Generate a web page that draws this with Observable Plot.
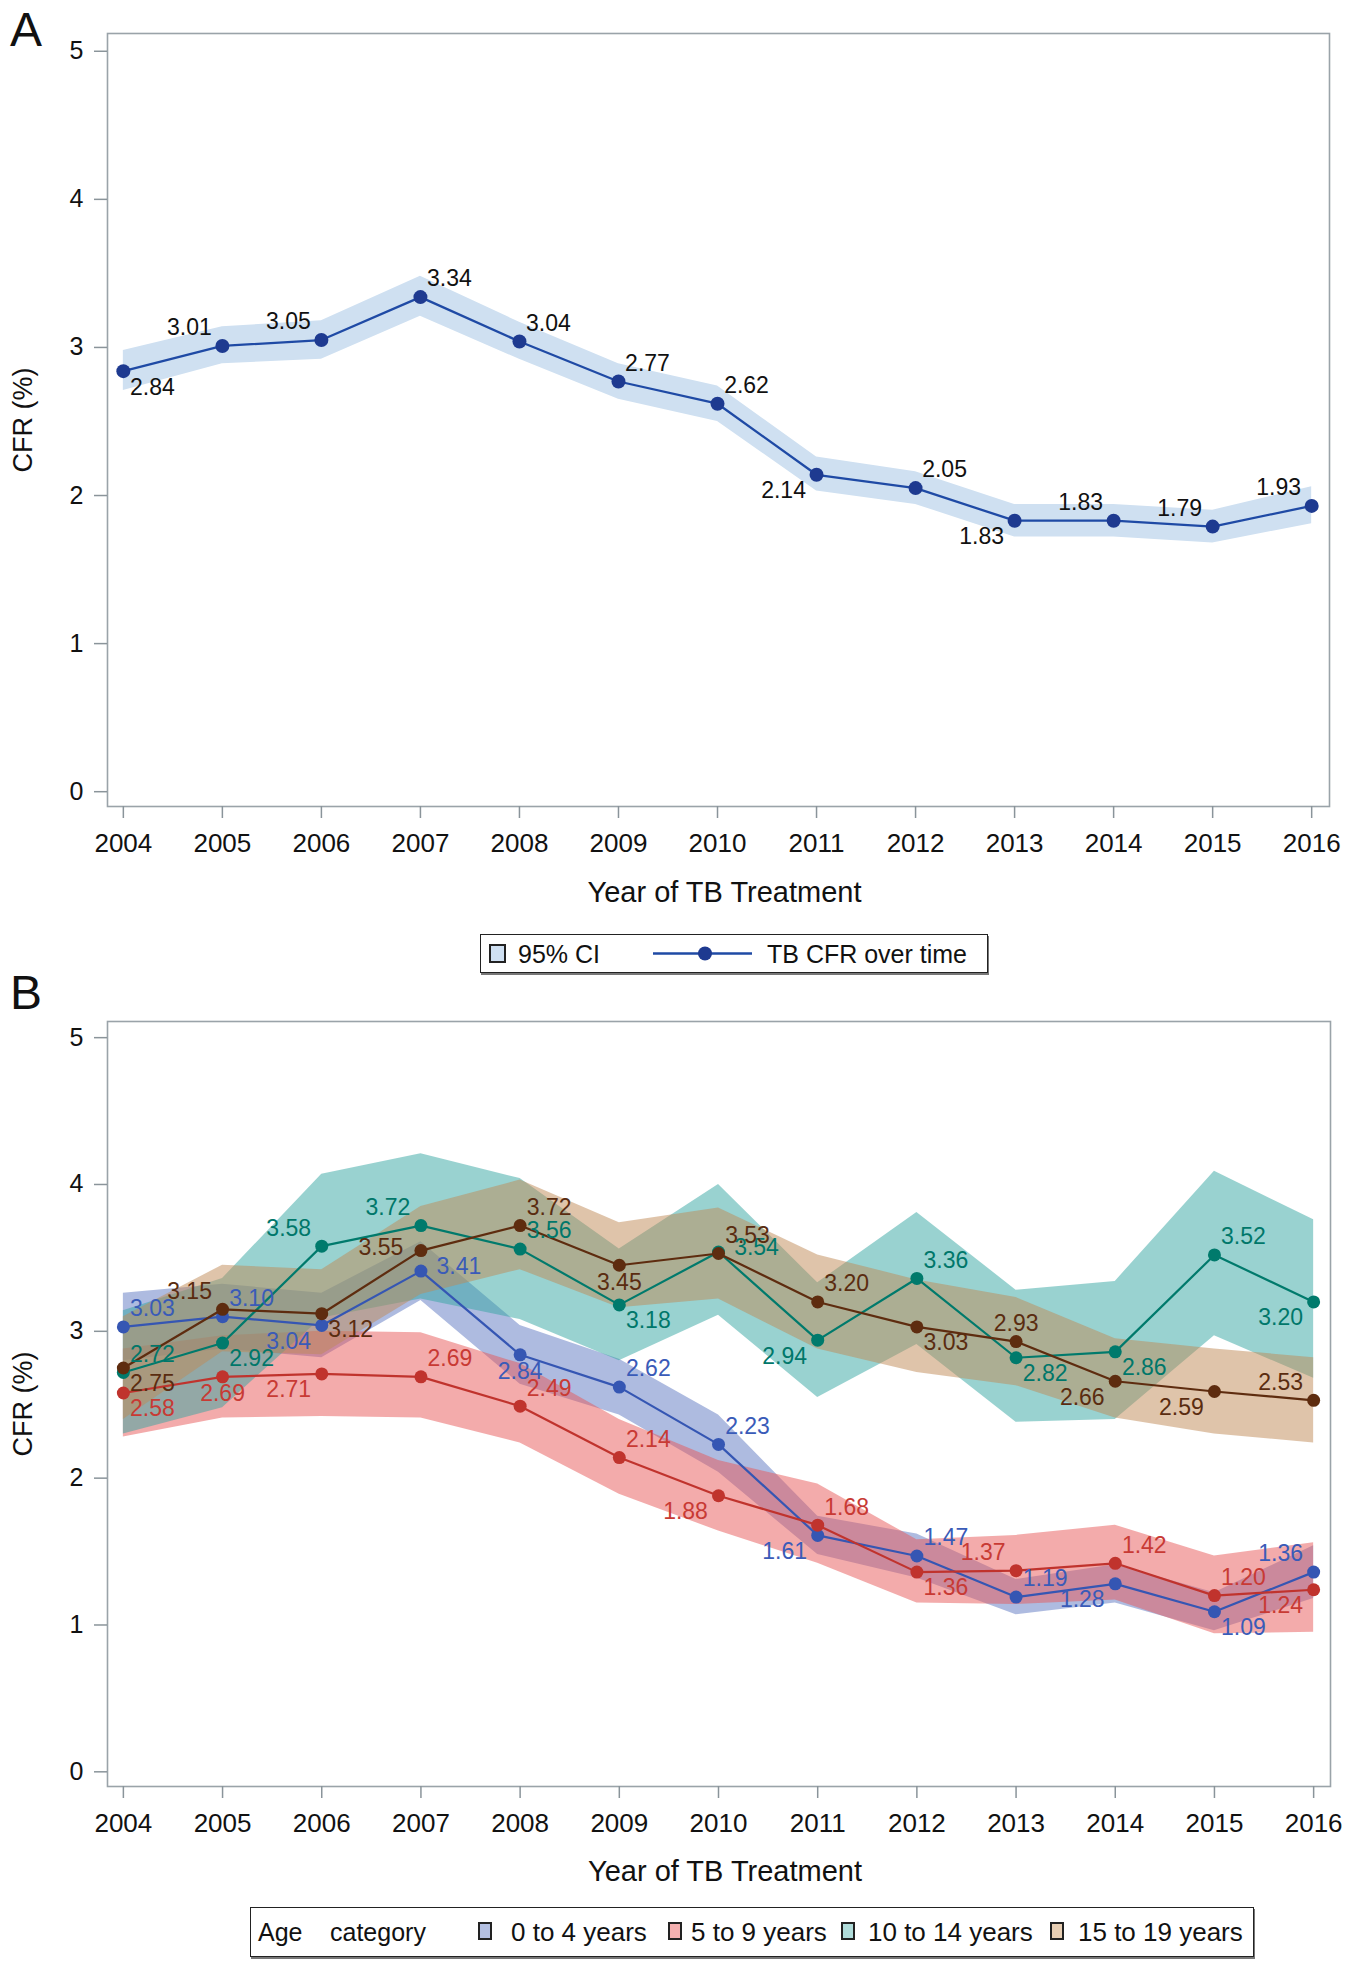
<!DOCTYPE html>
<html><head><meta charset="utf-8">
<script src="https://cdn.jsdelivr.net/npm/d3@7"></script>
<script src="https://cdn.jsdelivr.net/npm/@observablehq/plot@0.6"></script>
<style>
body{margin:0;background:#fff;font-family:"Liberation Sans",Arial,sans-serif;color:#111;}
#root{position:relative;width:1349px;height:1965px;overflow:hidden;background:#fff;}
.letter{position:absolute;font-size:48px;line-height:1;color:#111;}
.legend{position:absolute;border:1.5px solid #222;box-shadow:1px 2px 0 #777;background:#fff;}
.legend span.t{position:absolute;font-size:25px;white-space:nowrap;line-height:1;top:50%;transform:translateY(-50%);}
.legend .sw{position:absolute;border:2px solid #222;box-sizing:border-box;}
</style></head><body><div id="root"></div>
<script>
// ---------- data ----------
const years = [2004, 2005, 2006, 2007, 2008, 2009, 2010, 2011, 2012, 2013, 2014, 2015, 2016];

// Panel A: overall TB CFR (%) and 95% CI
const cfrAll   = [2.84, 3.01, 3.05, 3.34, 3.04, 2.77, 2.62, 2.14, 2.05, 1.83, 1.83, 1.79, 1.93];
const cfrAllLo = [2.71, 2.89, 2.92, 3.21, 2.92, 2.65, 2.50, 2.03, 1.94, 1.72, 1.72, 1.68, 1.81];
const cfrAllHi = [2.98, 3.14, 3.18, 3.48, 3.17, 2.89, 2.74, 2.26, 2.16, 1.94, 1.94, 1.90, 2.06];
const labelPosAll = ["se","nw","nw","ne","ne","ne","ne","sw","ne","sw","nw","nw","nw"];

// Panel B: by age category
const ageCategories = ["0 to 4 years", "5 to 9 years", "10 to 14 years", "15 to 19 years"];

const cfr0to4   = [3.03, 3.10, 3.04, 3.41, 2.84, 2.62, 2.23, 1.61, 1.47, 1.19, 1.28, 1.09, 1.36];
const lo0to4    = [2.80, 2.88, 2.82, 3.21, 2.64, 2.43, 2.04, 1.48, 1.32, 1.07, 1.15, 0.96, 1.18];
const hi0to4    = [3.26, 3.32, 3.26, 3.61, 3.04, 2.81, 2.43, 1.74, 1.62, 1.31, 1.41, 1.22, 1.54];
const labelPos0to4 = ["ne","ne","sw","e","s","ne","ne","sw","ne","ne","sw","se","nw"];

const cfr5to9   = [2.58, 2.69, 2.71, 2.69, 2.49, 2.14, 1.88, 1.68, 1.36, 1.37, 1.42, 1.20, 1.24];
const lo5to9    = [2.28, 2.41, 2.42, 2.41, 2.24, 1.89, 1.64, 1.42, 1.15, 1.14, 1.17, 0.94, 0.95];
const hi5to9    = [2.88, 2.97, 3.00, 2.99, 2.78, 2.40, 2.12, 1.96, 1.58, 1.61, 1.68, 1.47, 1.56];
const labelPos5to9 = ["se","s","sw","ne","ne","ne","sw","ne","se","nw","ne","ne","sw"];

const cfr10to14 = [2.72, 2.92, 3.58, 3.72, 3.56, 3.18, 3.54, 2.94, 3.36, 2.82, 2.86, 3.52, 3.20];
const lo10to14  = [2.30, 2.48, 3.09, 3.22, 3.08, 2.80, 3.11, 2.55, 2.91, 2.38, 2.40, 2.97, 2.68];
const hi10to14  = [3.14, 3.36, 4.07, 4.21, 4.04, 3.56, 4.00, 3.33, 3.81, 3.28, 3.34, 4.09, 3.76];
const labelPos10to14 = ["ne","se","nw","nw","ne","se","e","sw","ne","se","se","ne","sw"];

const cfr15to19 = [2.75, 3.15, 3.12, 3.55, 3.72, 3.45, 3.53, 3.20, 3.03, 2.93, 2.66, 2.59, 2.53];
const lo15to19  = [2.40, 2.86, 2.84, 3.25, 3.42, 3.16, 3.22, 2.88, 2.72, 2.63, 2.41, 2.30, 2.24];
const hi15to19  = [3.10, 3.45, 3.42, 3.85, 4.03, 3.74, 3.84, 3.52, 3.35, 3.23, 2.95, 2.88, 2.82];
const labelPos15to19 = ["se","nw","se","w","ne","s","ne","ne","se","n","sw","sw","nw"];

const yTicks = [0, 1, 2, 3, 4, 5];

// ---------- helpers ----------
const FONT = '"Liberation Sans", Arial, sans-serif';
const offsets = {ne:[29,-18], nw:[-33,-18], se:[29,16], sw:[-33,16], e:[38,-4], w:[-40,-3], s:[0,17], n:[0,-18]};

function rowsOf(vals, lo, hi, pos) {
  return years.map((year, i) => ({year, value: vals[i], lo: lo[i], hi: hi[i], pos: pos[i]}));
}
function labelMarks(rows, fill) {
  return Object.entries(offsets).map(([k, [dx, dy]]) =>
    Plot.text(rows.filter(r => r.pos === k), {x: "year", y: "value", text: r => r.value.toFixed(2), dx, dy, fill, fontSize: 23}));
}
function axes(title, titleDy) {
  return [
    Plot.frame({stroke: "#9aa3a9", strokeWidth: 1.6}),
    Plot.axisX({ticks: years, tickFormat: d => String(d), tickSize: 12, tickPadding: 15, fontSize: 26, label: null, stroke: "#8a949a", strokeWidth: 1.5}),
    Plot.axisY({ticks: yTicks, tickFormat: d => String(d), tickSize: 13, tickPadding: 11, fontSize: 25, label: null, stroke: "#8a949a", strokeWidth: 1.5}),
    Plot.text([title], {frameAnchor: "bottom", dx: 6, dy: titleDy, fontSize: 29, fill: "#111"}),
    Plot.text(["CFR (%)"], {frameAnchor: "left", textAnchor: "middle", dx: -84, rotate: -90, fontSize: 27, fill: "#111"})
  ];
}

const root = document.getElementById("root");

// ---------- Panel A ----------
const rowsAll = rowsOf(cfrAll, cfrAllLo, cfrAllHi, labelPosAll);
const plotA = Plot.plot({
  width: 1349, height: 916,
  marginLeft: 107, marginRight: 20, marginTop: 33, marginBottom: 110,
  style: {fontFamily: FONT, color: "#111", background: "#fff", overflow: "visible"},
  x: {domain: [2003.84, 2016.18]},
  y: {domain: [-0.10, 5.12]},
  marks: [
    Plot.areaY(rowsAll, {x: "year", y1: "lo", y2: "hi", fill: "#cfe0f1"}),
    Plot.line(rowsAll, {x: "year", y: "value", stroke: "#1f4aa5", strokeWidth: 2.3}),
    Plot.dot(rowsAll, {x: "year", y: "value", r: 7, fill: "#1e3a90"}),
    ...labelMarks(rowsAll, "#111"),
    ...axes("Year of TB Treatment", 95)
  ]
});
plotA.style.position = "absolute"; plotA.style.left = "0px"; plotA.style.top = "0px";
root.appendChild(plotA);

// ---------- Panel B ----------
const series = [
  {rows: rowsOf(cfr0to4, lo0to4, hi0to4, labelPos0to4),         band: "#5e78c2", line: "#3556b3", label: "#3a5bb8"},
  {rows: rowsOf(cfr5to9, lo5to9, hi5to9, labelPos5to9),         band: "#e85858", line: "#c0332d", label: "#c83a34"},
  {rows: rowsOf(cfr10to14, lo10to14, hi10to14, labelPos10to14), band: "#34a5a2", line: "#007a6c", label: "#00776a"},
  {rows: rowsOf(cfr15to19, lo15to19, hi15to19, labelPos15to19), band: "#c08a55", line: "#5e2c0f", label: "#5a2c10"}
];
const plotB = Plot.plot({
  width: 1349, height: 912,
  marginLeft: 107, marginRight: 19, marginTop: 42, marginBottom: 105,
  style: {fontFamily: FONT, color: "#111", background: "#fff", overflow: "visible"},
  x: {domain: [2003.84, 2016.17]},
  y: {domain: [-0.10, 5.11]},
  marks: [
    ...series.map(s => Plot.areaY(s.rows, {x: "year", y1: "lo", y2: "hi", fill: s.band, fillOpacity: 0.5})),
    ...series.flatMap(s => [
      Plot.line(s.rows, {x: "year", y: "value", stroke: s.line, strokeWidth: 2.2}),
      Plot.dot(s.rows, {x: "year", y: "value", r: 6.5, fill: s.line})
    ]),
    ...series.flatMap(s => labelMarks(s.rows, s.label)),
    ...axes("Year of TB Treatment", 94)
  ]
});
plotB.style.position = "absolute"; plotB.style.left = "0px"; plotB.style.top = "979px";
root.appendChild(plotB);

// ---------- panel letters ----------
for (const [t, top] of [["A", 10], ["B", 973]]) {
  const d = document.createElement("div");
  d.className = "letter"; d.textContent = t;
  d.style.left = "10px"; d.style.top = (top - 4) + "px";
  root.appendChild(d);
}

// ---------- legend A ----------
const legA = document.createElement("div");
legA.className = "legend";
Object.assign(legA.style, {left: "480px", top: "934px", width: "506px", height: "37px"});
legA.innerHTML =
  '<div class="sw" style="left:8px;top:9px;width:17px;height:19px;background:#cfe0f2"></div>' +
  '<span class="t" style="left:37px">95% CI</span>' +
  '<svg style="position:absolute;left:171px;top:0" width="102" height="37"><line x1="1" x2="100" y1="18.5" y2="18.5" stroke="#1f4aa5" stroke-width="2.3"/><circle cx="53" cy="18.5" r="7" fill="#1e3a90"/></svg>' +
  '<span class="t" style="left:286px">TB CFR over time</span>';
root.appendChild(legA);

// ---------- legend B ----------
const legB = document.createElement("div");
legB.className = "legend";
Object.assign(legB.style, {left: "250px", top: "1907px", width: "1002px", height: "48px"});
const swB = ["#b4c0e2", "#f4b0b0", "#b0dcda", "#e8cfb4"];
const swLeft = [227, 417, 590, 799];
const txLeft = [260, 440, 617, 827];
let html = '<span class="t" style="left:7px">Age</span><span class="t" style="left:79px">category</span>';
ageCategories.forEach((c, i) => {
  html += `<div class="sw" style="left:${swLeft[i]}px;top:14px;width:14px;height:18px;background:${swB[i]}"></div>`;
  html += `<span class="t" style="left:${txLeft[i]}px;font-size:26px">${c}</span>`;
});
legB.innerHTML = html;
root.appendChild(legB);
</script></body></html>
